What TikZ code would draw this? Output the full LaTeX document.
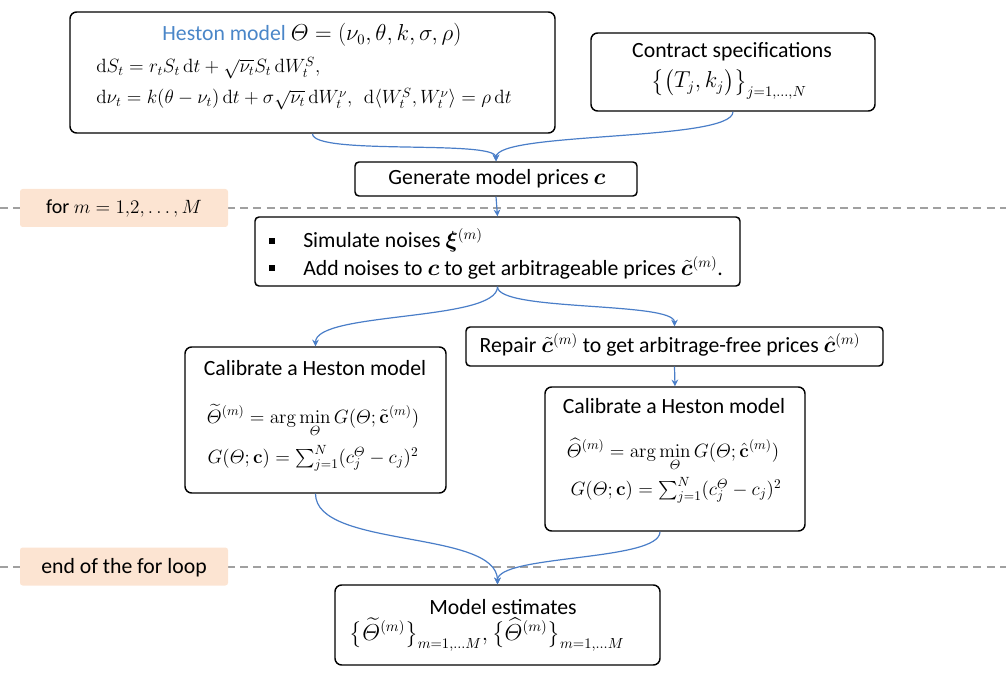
\documentclass[tikz,border=0pt]{standalone}
\usepackage{amsmath,amssymb,bm}
\usepackage[no-math]{fontspec}
\setmainfont{Carlito}
\usetikzlibrary{arrows.meta}
\definecolor{hblue}{RGB}{74,134,200}
\definecolor{cblue}{RGB}{74,126,200}
\definecolor{peach}{RGB}{252,228,210}
\definecolor{dgrey}{RGB}{160,160,160}
\begin{document}
\begin{tikzpicture}[x=0.75pt,y=-0.75pt,
  box/.style={draw=black,line width=1.1pt,rounded corners=5pt,inner sep=0pt},
  lbl/.style={fill=peach,rounded corners=2pt,inner sep=0pt,minimum width=156pt,minimum height=28.5pt},
  conn/.style={draw=cblue,line width=0.9pt,-{Stealth[length=5pt,width=5pt]}},
  txt/.style={inner sep=0pt,font=\fontsize{16.3}{17.5}\selectfont},
  eq/.style={inner sep=0pt,font=\fontsize{13.8}{16}\selectfont},
  sep/.style={draw=dgrey,line width=0.8pt,dash pattern=on 6pt off 4pt},
  bul/.style={fill=black,inner sep=0pt,minimum size=5pt}]
\useasboundingbox (0,0) rectangle (1006,673);
% dashed separators and labels
\coordinate (s1a) at (0,208); \coordinate (s1b) at (1006,208);
\coordinate (s2a) at (0,567); \coordinate (s2b) at (1006,567);
\draw[sep] (s1a) -- (s1b);
\draw[sep] (s2a) -- (s2b);
\node[lbl] (forlbl) at (124,208) {};
\node[txt,anchor=base,font=\fontsize{15}{17}\selectfont] (fort) at (124,214) {for $m=1{,}2,\ldots,M$};
\node[lbl] (endlbl) at (124,566.5) {};
\node[txt,anchor=base] (endt) at (124,573) {end of the for loop};
% boxes
\node[box,minimum width=363.75pt,minimum height=90.75pt] (heston) at (312.5,72.5) {};
\node[box,minimum width=213pt,minimum height=58.5pt] (contract) at (733,72) {};
\node[box,rounded corners=3pt,minimum width=211.5pt,minimum height=25.5pt] (gen) at (496,179) {};
\node[box,rounded corners=3pt,minimum width=363.75pt,minimum height=51.75pt] (sim) at (497.5,251.5) {};
\node[box,minimum width=195.75pt,minimum height=109.5pt] (lcal) at (315.5,420) {};
\node[box,rounded corners=3pt,minimum width=312.75pt,minimum height=29.25pt] (rep) at (674.5,346.5) {};
\node[box,minimum width=195pt,minimum height=108pt] (rcal) at (675,459) {};
\node[box,minimum width=243.75pt,minimum height=60pt] (est) at (497.5,625) {};
% texts
\node[txt,anchor=base] (htitle) at (312,41) {{\color{hblue}Heston model} $\varTheta=(\nu_0,\theta,k,\sigma,\rho)$};
\node[eq,anchor=base west] (heq1) at (96,73) {$\mathrm{d}S_t = r_tS_t\,\mathrm{d}t+\sqrt{\nu_t}S_t\,\mathrm{d}W_t^S,$};
\node[eq,anchor=base west] (heq2) at (96,104) {$\mathrm{d}\nu_t = k(\theta-\nu_t)\,\mathrm{d}t+\sigma\sqrt{\nu_t}\,\mathrm{d}W_t^\nu,\ \ \mathrm{d}\langle W_t^S,W_t^\nu\rangle=\rho\,\mathrm{d}t$};
\node[txt,anchor=base] (ct1) at (732,58) {Contract specifications};
\node[txt,anchor=base] (ct2) at (729,88) {$\big\{\big(T_j,k_j\big)\big\}_{j=1,\dots,N}$};
\node[txt,anchor=base] (gt) at (497,185) {Generate model prices $\bm{c}$};
\node[bul] (b1) at (272,241) {};
\node[bul] (b2) at (272,268) {};
\node[txt,anchor=base west] (st1) at (303,248) {Simulate noises $\bm{\xi}^{(m)}$};
\node[txt,anchor=base west] (st2) at (303,276) {Add noises to $\bm{c}$ to get arbitrageable prices $\tilde{\bm{c}}^{(m)}$.};
\node[txt,anchor=base] (lt) at (315,375) {Calibrate a Heston model};
\node[eq,anchor=base] (le1) at (313,423) {$\displaystyle\widetilde{\varTheta}^{(m)}=\arg\min_{\varTheta}G(\varTheta;\tilde{\mathbf{c}}^{(m)})$};
\node[eq,anchor=base] (le2) at (313,463) {$G(\varTheta;\mathbf{c})=\sum_{j=1}^N(c_j^{\varTheta}-c_j)^2$};
\node[txt,anchor=base] (rt) at (670,353) {Repair $\tilde{\bm{c}}^{(m)}$ to get arbitrage-free prices $\hat{\bm{c}}^{(m)}$};
\node[txt,anchor=base] (rct) at (674,413) {Calibrate a Heston model};
\node[eq,anchor=base] (re1) at (673,457) {$\displaystyle\widehat{\varTheta}^{(m)}=\arg\min_{\varTheta}G(\varTheta;\hat{\mathbf{c}}^{(m)})$};
\node[eq,anchor=base] (re2) at (676,495) {$G(\varTheta;\mathbf{c})=\sum_{j=1}^N(c_j^{\varTheta}-c_j)^2$};
\node[txt,anchor=base] (et1) at (503,614) {Model estimates};
\node[txt,anchor=base] (et2) at (487,640) {$\big\{\widetilde{\varTheta}^{(m)}\big\}_{m=1,\dots M},\big\{\widehat{\varTheta}^{(m)}\big\}_{m=1,\dots M}$};
% connectors
\draw[conn] (heston.south) .. controls +(0,22) and +(0,-22) .. (gen.north);
\draw[conn] (contract.south) .. controls +(0,30) and +(0,-30) .. (gen.north);
\draw[conn] (gen.south) -- (sim.north);
\draw[conn] (sim.south) .. controls +(0,35) and +(0,-35) .. (lcal.north);
\draw[conn] (sim.south) .. controls +(0,25) and +(0,-25) .. (rep.north);
\draw[conn] (rep.south) -- (rcal.north);
\draw[conn] (lcal.south) .. controls +(0,55) and +(0,-55) .. (est.north);
\draw[conn] ([xshift=-11.25pt]rcal.south) .. controls +(0,30) and +(0,-30) .. (est.north);
\end{tikzpicture}
\end{document}
